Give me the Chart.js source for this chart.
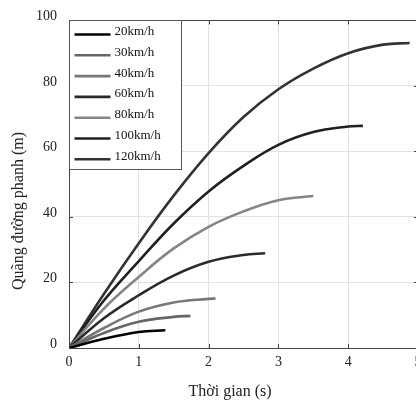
<!DOCTYPE html>
<html>
<head>
<meta charset="utf-8">
<script src="https://cdn.jsdelivr.net/npm/chart.js@4.4.1/dist/chart.umd.min.js"></script>
<style>
  html, body { margin: 0; padding: 0; background: #fff; overflow: hidden; }
  #wrap { width: 440px; height: 402px; }
</style>
</head>
<body>
<div id="wrap"><canvas id="brakeChart" width="440" height="402"></canvas></div>
<script>
// speeds shown in the legend
const speedLabels = ['20km/h', '30km/h', '40km/h', '60km/h', '80km/h', '100km/h', '120km/h'];
const lineColors = ['#000000', '#666666', '#777777', '#2a2a2a', '#858585', '#202020', '#333333'];

// time (s) and braking distance (m)
const t20 = [0, 0.5, 1, 1.38];
const d20 = [0, 2.8, 4.9, 5.4];
const t30 = [0, 0.5, 1, 1.5, 1.74];
const d30 = [0, 4.6, 8.0, 9.5, 9.8];
const t40 = [0, 0.5, 1, 1.5, 2, 2.1];
const d40 = [0, 6.1, 11.1, 13.9, 15.0, 15.1];
const t60 = [0, 0.5, 1, 1.5, 2, 2.5, 2.81];
const d60 = [0, 9.1, 16.1, 22.1, 26.3, 28.4, 28.9];
const t80 = [0, 0.5, 1, 1.5, 2, 2.5, 3, 3.5];
const d80 = [0, 12.0, 21.7, 30.4, 37.0, 41.7, 45.1, 46.4];
const t100 = [0, 0.5, 1, 1.5, 2, 2.5, 3, 3.5, 4, 4.21];
const d100 = [0, 14.5, 26.5, 38.0, 47.8, 55.6, 62.0, 65.9, 67.6, 67.8];
const t120 = [0, 0.5, 1, 1.5, 2, 2.5, 3, 3.5, 4, 4.5, 4.88];
const d120 = [0, 16.5, 32.0, 46.5, 59.5, 70.5, 79.0, 85.3, 90.0, 92.6, 93.1];

const timeSeries = [t20, t30, t40, t60, t80, t100, t120];
const distSeries = [d20, d30, d40, d60, d80, d100, d120];

const xTicks = [0, 1, 2, 3, 4, 5];
const yTicks = [0, 20, 40, 60, 80, 100];

const serif = "'Liberation Serif', 'Times New Roman', serif";

const datasets = speedLabels.map((label, i) => ({
    label: label,
    data: timeSeries[i].map((t, k) => ({ x: t, y: distSeries[i][k] })),
    borderColor: lineColors[i],
    backgroundColor: lineColors[i],
    borderWidth: 2.6,
    pointRadius: 0,
    fill: false,
    tension: 0.4
}));

// frame, inward ticks, legend box and axis titles
const decorations = {
    id: 'decorations',
    afterDraw(chart) {
        const ctx = chart.ctx;
        const a = chart.chartArea;
        const xs = chart.scales.x;
        const ys = chart.scales.y;
        ctx.save();

        ctx.strokeStyle = '#444';
        ctx.lineWidth = 1;
        ctx.strokeRect(Math.round(a.left) + 0.5, Math.round(a.top) + 0.5,
            Math.round(a.right - a.left), Math.round(a.bottom - a.top));

        ctx.beginPath();
        xTicks.forEach(v => {
            const px = Math.round(xs.getPixelForValue(v)) + 0.5;
            ctx.moveTo(px, a.top); ctx.lineTo(px, a.top + 4);
            ctx.moveTo(px, a.bottom); ctx.lineTo(px, a.bottom - 4);
        });
        yTicks.forEach(v => {
            const py = Math.round(ys.getPixelForValue(v)) + 0.5;
            ctx.moveTo(a.left, py); ctx.lineTo(a.left + 4, py);
            ctx.moveTo(a.right, py); ctx.lineTo(a.right - 4, py);
        });
        ctx.stroke();

        // legend
        const bx = Math.round(a.left) + 0.5, by = Math.round(a.top) + 0.5;
        const bw = 112, bh = 149;
        ctx.fillStyle = '#fff';
        ctx.fillRect(bx, by, bw, bh);
        ctx.strokeStyle = '#555';
        ctx.strokeRect(bx, by, bw, bh);
        ctx.font = '13px ' + serif;
        ctx.textBaseline = 'middle';
        ctx.textAlign = 'left';
        chart.data.datasets.forEach((ds, i) => {
            const yy = by + 12 + i * 20.8;
            ctx.strokeStyle = ds.borderColor;
            ctx.lineWidth = 2.6;
            ctx.beginPath();
            ctx.moveTo(bx + 5, yy + 2);
            ctx.lineTo(bx + 41, yy + 2);
            ctx.stroke();
            ctx.fillStyle = '#111';
            ctx.fillText(ds.label, bx + 45, yy - 1);
        });

        // axis titles
        ctx.fillStyle = '#222';
        ctx.font = '16px ' + serif;
        ctx.textAlign = 'center';
        ctx.textBaseline = 'middle';
        ctx.fillText('Thời gian (s)', 230, 392);
        ctx.translate(19, 211);
        ctx.rotate(-Math.PI / 2);
        ctx.fillText('Quãng đường phanh (m)', 0, 0);
        ctx.restore();
    }
};

new Chart(document.getElementById('brakeChart'), {
    type: 'line',
    data: { datasets: datasets },
    options: {
        responsive: false,
        animation: false,
        layout: { padding: { top: 19, right: 22, left: 0, bottom: 0 } },
        plugins: {
            legend: { display: false },
            tooltip: { enabled: false }
        },
        scales: {
            x: {
                type: 'linear',
                min: 0,
                max: 5,
                afterFit(scale) { scale.height = 54; },
                afterBuildTicks(scale) { scale.ticks = xTicks.map(v => ({ value: v })); },
                ticks: { color: '#222', padding: 6, font: { family: serif, size: 14 } },
                grid: { color: '#e2e2e2', drawTicks: false },
                border: { color: '#444', width: 1 }
            },
            y: {
                type: 'linear',
                min: 0,
                max: 100,
                afterFit(scale) { scale.width = 69; },
                afterBuildTicks(scale) { scale.ticks = yTicks.map(v => ({ value: v })); },
                ticks: { color: '#222', padding: 12, labelOffset: -4, font: { family: serif, size: 14 } },
                grid: { color: '#e2e2e2', drawTicks: false },
                border: { color: '#444', width: 1 }
            }
        }
    },
    plugins: [decorations]
});
</script>
</body>
</html>
